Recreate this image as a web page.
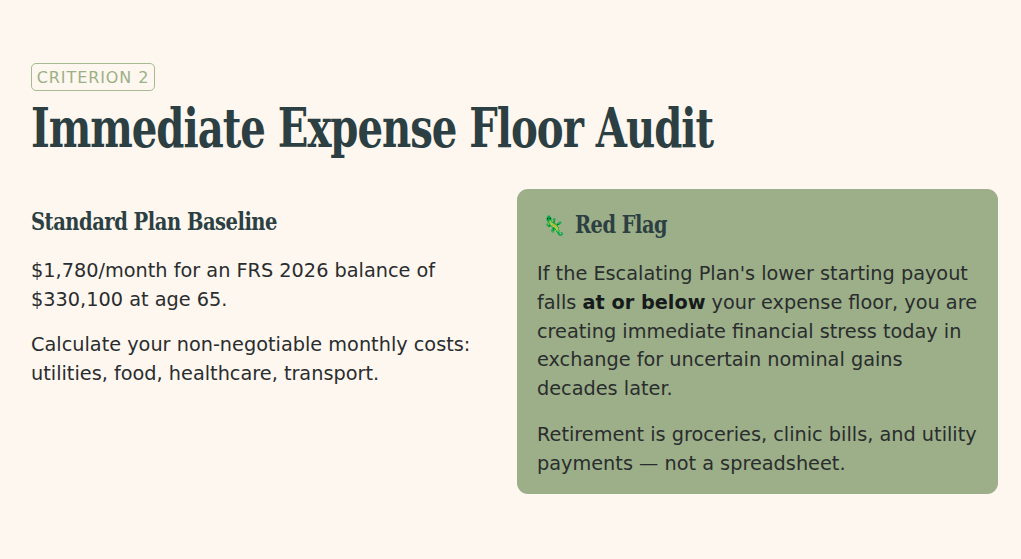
<!DOCTYPE html>
<html>
<head>
<meta charset="utf-8">
<script src="https://cdn.jsdelivr.net/npm/chart.js@4"></script>
<style>
  html, body { margin: 0; padding: 0; }
  body {
    width: 1021px; height: 559px; overflow: hidden;
    background: #fdf7f0;
    font-family: "DejaVu Sans", sans-serif;
    color: #2a2d2e;
    position: relative;
  }
  .badge {
    position: absolute; left: 31px; top: 63px;
    height: 26px; width: 122px; text-align: center;
    border: 1px solid #a6ba92; border-radius: 5px;
    color: #9cb085; font-size: 16px; line-height: 27px; letter-spacing: 0.9px;
  }
  .serif {
    position: absolute; margin: 0; white-space: nowrap;
    font-family: "DejaVu Serif", serif; font-weight: bold; color: #2c3f42;
    transform-origin: 0 50%;
  }
  #title { left: 31px; top: 98px; font-size: 54px; line-height: 60px; letter-spacing: -1.4px; }
  #leftHead { left: 31px; top: 207px; font-size: 24px; line-height: 30px; letter-spacing: -0.6px; }
  #boxHead { left: 58px; top: 21px; font-size: 24px; line-height: 30px; letter-spacing: -0.6px; }
  p { position: absolute; margin: 0; font-size: 19.3px; line-height: 29px; white-space: nowrap; }
  .box {
    position: absolute; left: 517px; top: 189px; width: 481px; height: 305px;
    background: #9caf88; border-radius: 11px;
  }
  .box p { left: 20px; line-height: 28.8px; }
  .icon { position: absolute; left: 25px; top: 22px; font-size: 19px; line-height: 28px; }
  b { font-weight: bold; color: #161a1b; }
</style>
</head>
<body>
<div class="badge" id="badge"></div>
<h1 class="serif" id="title"></h1>
<h2 class="serif" id="leftHead"></h2>
<p id="lp0" style="left:31px; top:256px"></p>
<p id="lp1" style="left:31px; top:330px"></p>
<div class="box" id="box">
  <span class="icon" id="icon"></span>
  <h2 class="serif" id="boxHead"></h2>
  <p id="bp0" style="top:71px"></p>
  <p id="bp1" style="top:232px"></p>
</div>
<script>
// slide texts
const badgeText = "CRITERION 2";
const titleText = "Immediate Expense Floor Audit";
const leftHeading = "Standard Plan Baseline";
const leftParas = [
  ["$1,780/month for an FRS 2026 balance of", "$330,100 at age 65."],
  ["Calculate your non-negotiable monthly costs:", "utilities, food, healthcare, transport."]
];
const boxIcon = "\u{1F98E}";
const boxHeading = "Red Flag";
const boxParas = [
  ["If the Escalating Plan's lower starting payout",
   "falls <b>at or below</b> your expense floor, you are",
   "creating immediate financial stress today in",
   "exchange for uncertain nominal gains",
   "decades later."],
  ["Retirement is groceries, clinic bills, and utility",
   "payments \u2014 not a spreadsheet."]
];
// widths the serif headings take in the reference
const headWidths = { title: 682, leftHead: 246, boxHead: 92 };

document.getElementById("badge").textContent = badgeText;
document.getElementById("title").textContent = titleText;
document.getElementById("leftHead").textContent = leftHeading;
document.getElementById("boxHead").textContent = boxHeading;
document.getElementById("icon").textContent = boxIcon;
leftParas.forEach((lines, i) => { document.getElementById("lp" + i).innerHTML = lines.join("<br>"); });
boxParas.forEach((lines, i) => { document.getElementById("bp" + i).innerHTML = lines.join("<br>"); });

// squeeze the serif headings to the display face's narrow width
Object.keys(headWidths).forEach(id => {
  const el = document.getElementById(id);
  const w = el.getBoundingClientRect().width;
  el.style.transform = "scaleX(" + (headWidths[id] / w) + ")";
});
</script>
</body>
</html>
